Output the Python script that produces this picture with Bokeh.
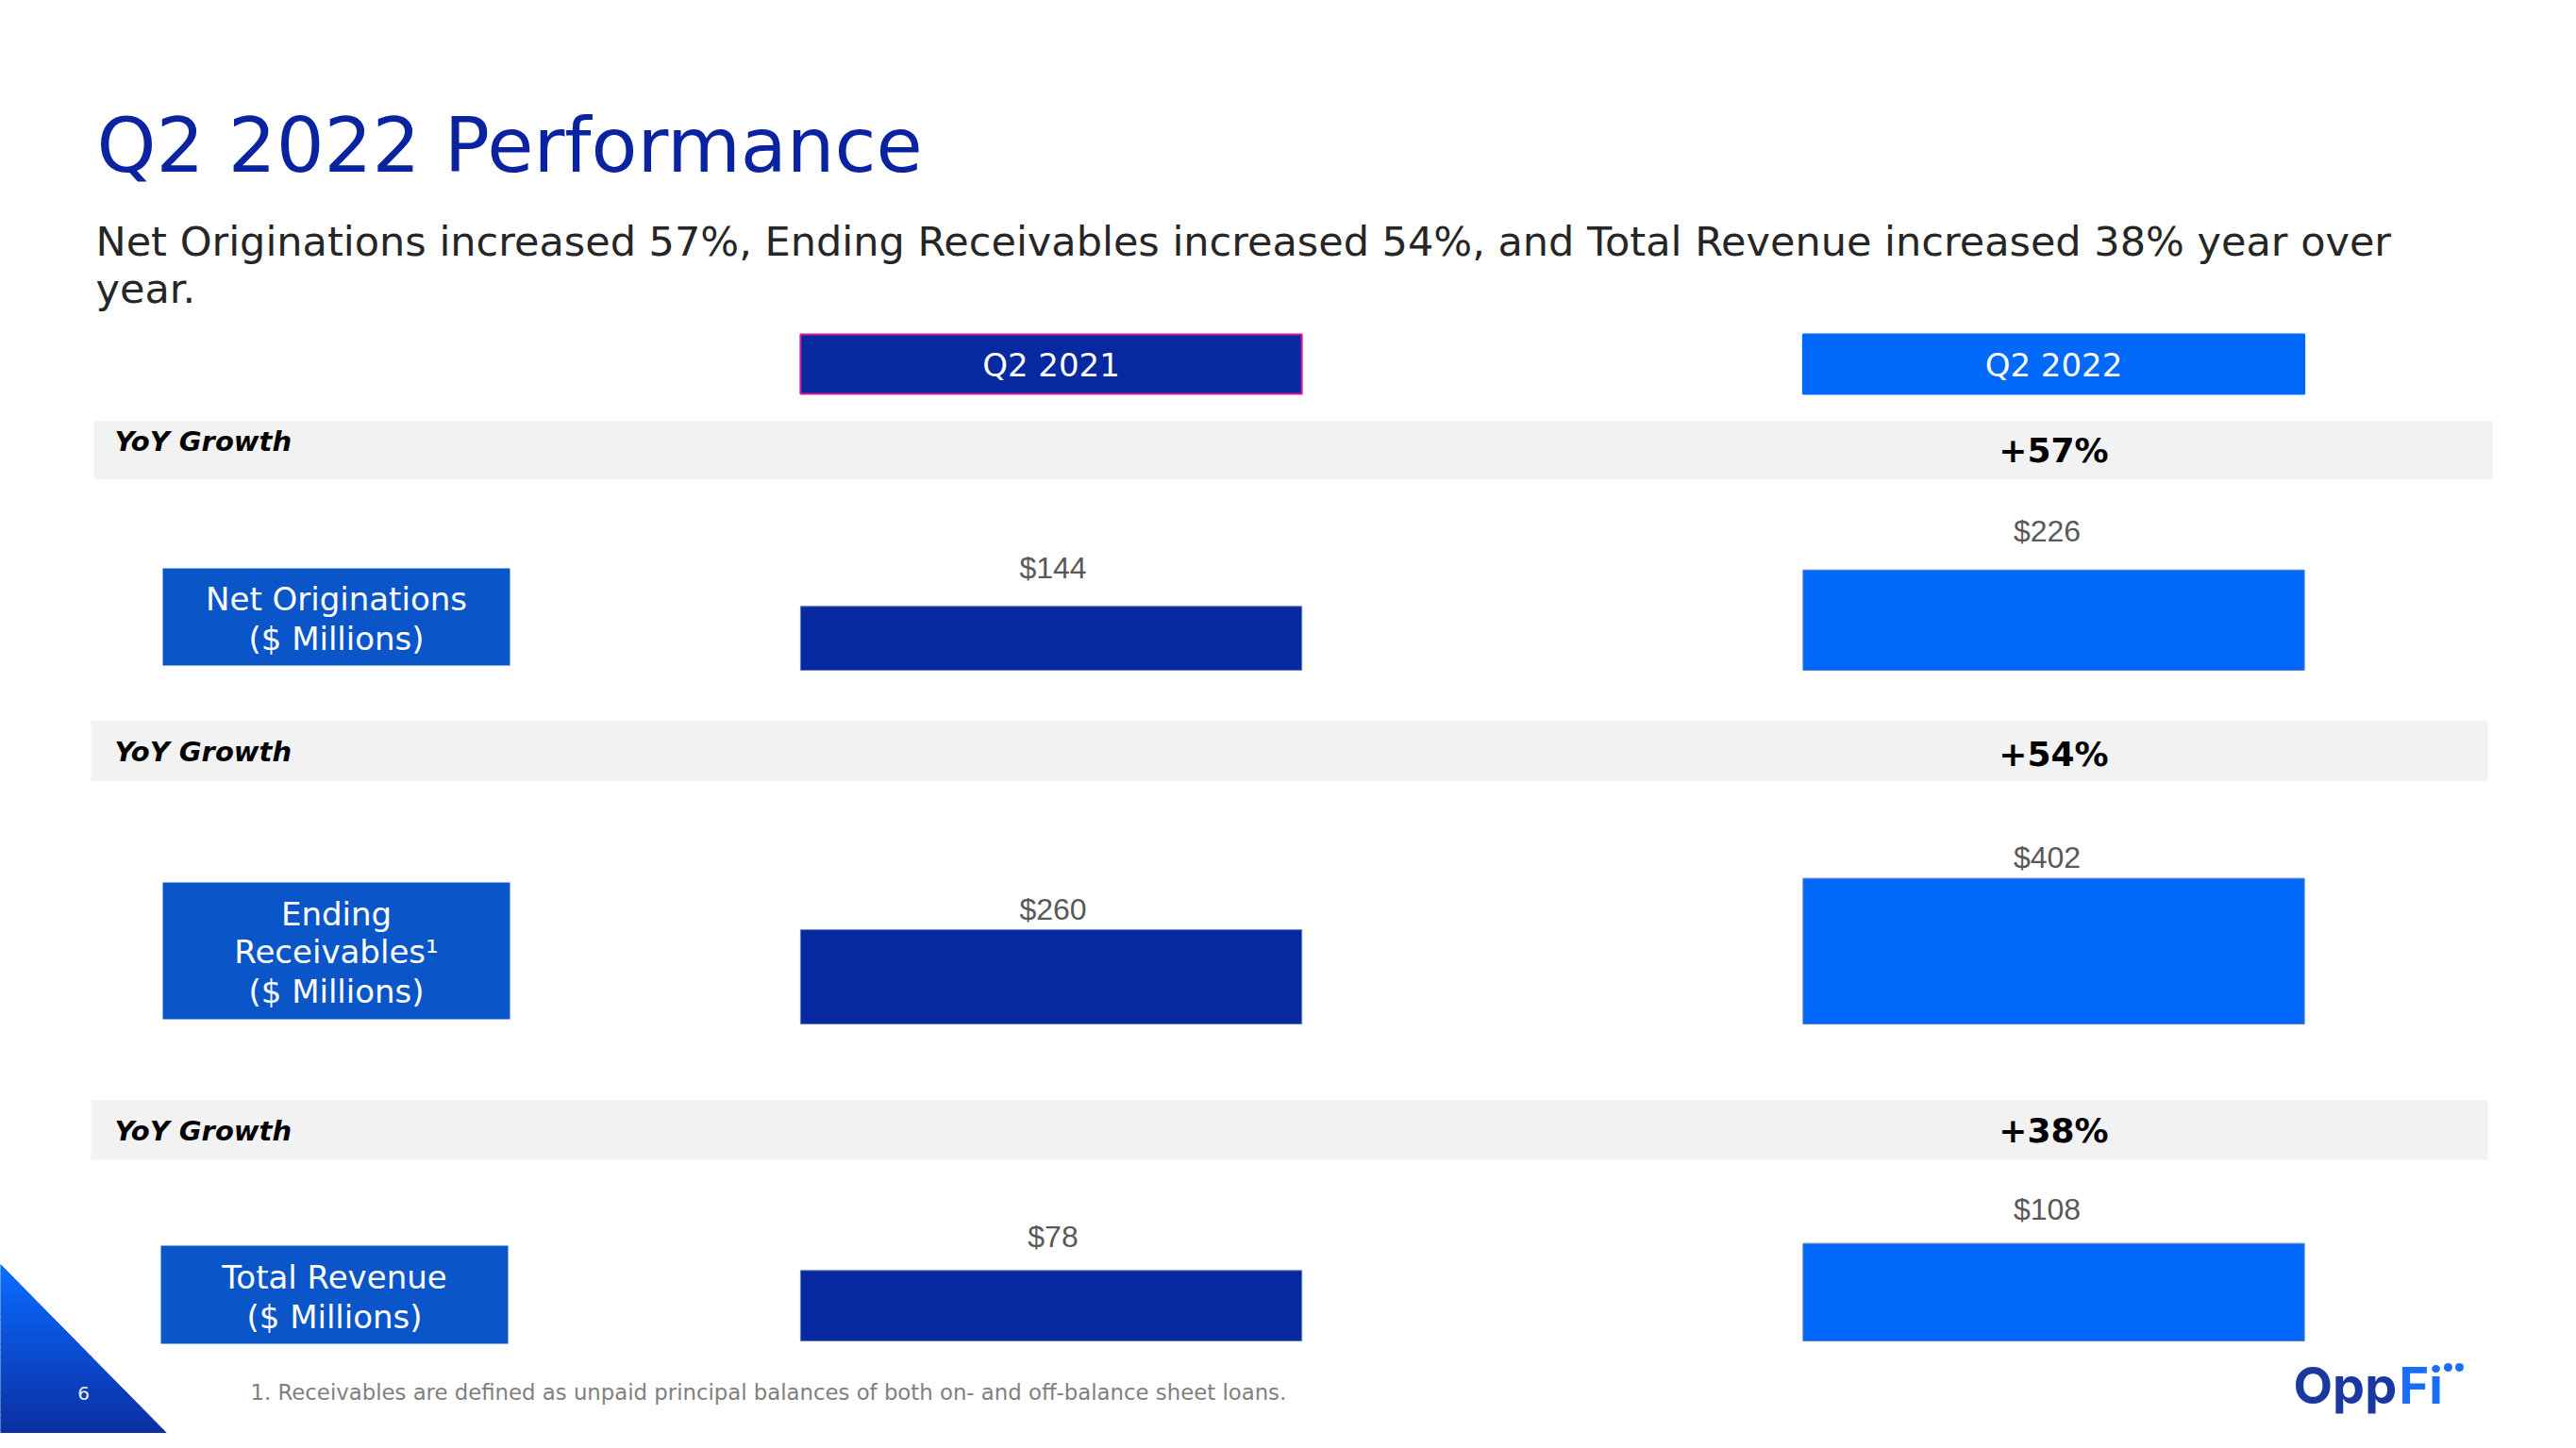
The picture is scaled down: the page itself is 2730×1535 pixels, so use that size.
from bokeh.plotting import figure
from bokeh.models import Range1d, ColumnDataSource
from bokeh.core.properties import value
from bokeh.embed import file_html
from bokeh.resources import INLINE

# ---------------- data ----------------
title_text = "Q2 2022 Performance"
subtitle_lines = [
    "Net Originations increased 57%, Ending Receivables increased 54%, and Total Revenue increased 38% year over",
    "year.",
]
metrics = ["Net Originations", "Ending Receivables", "Total Revenue"]
metric_box_lines = [
    ["Net Originations", "($ Millions)"],
    ["Ending", "Receivables\u00b9", "($ Millions)"],
    ["Total Revenue", "($ Millions)"],
]
periods = ["Q2 2021", "Q2 2022"]
q2_2021 = [144, 260, 78]
q2_2022 = [226, 402, 108]
yoy_growth = ["+57%", "+54%", "+38%"]
yoy_label = "YoY Growth"
footnote = "1. Receivables are defined as unpaid principal balances of both on- and off-balance sheet loans."
page_number = "6"

# ---------------- styles / layout ----------------
NAVY = "#0628a0"
BRIGHT = "#0068fb"
BOX = "#0a56c8"
BAND = "#f2f2f2"
TITLE_C = "#0a23a0"
SANS = "DejaVu Sans"
W, H = 2714, 1519

panel_baseline = [710, 1085, 1421]        # screen px of value 0
panel_px_per_unit = [0.47, 0.384, 0.957]  # each panel has its own scale
label_gap = [41, 22, 36]                  # label centre above bar top (px)
label_dx = [2, -7]                        # small horizontal nudge per column (px)
band_top = [446, 764, 1166]
band_bottom = [508, 827, 1229]
band_left = [99, 96, 96]
band_right = [2641, 2636, 2636]
yoy_center = [467, 796, 1198]
growth_center = [477, 799, 1198]
box_left = [172, 172, 170]
box_right = [540, 540, 538]
box_top = [602, 935, 1320]
box_bottom = [705, 1080, 1424]
box_line_y = [[634, 676], [968, 1008, 1050], [1353, 1395]]

col_px = 1062.5       # px between the two period columns
col0_px = 1113.5      # px of first column centre

p = figure(width=W, height=H, x_range=Range1d(0, W), y_range=Range1d(H, 0),
           x_axis_type=None, y_axis_type=None, output_backend="svg",
           toolbar_location=None, min_border=0, title=None)
p.grid.visible = False
p.outline_line_color = None
p.background_fill_color = "white"
p.border_fill_color = "white"

c = -col0_px / col_px
p.extra_x_ranges = {"period": Range1d(c, c + W / col_px)}
yr = {}
for k in range(3):
    s = panel_px_per_unit[k]
    a = (panel_baseline[k] - H) / s
    yr[f"panel{k}"] = Range1d(a, a + H / s)
p.extra_y_ranges = yr

# ---------------- title / subtitle ----------------
p.text(x=[102], y=[154], text=[title_text], text_font=value(SANS), text_font_size="80px",
       text_color=TITLE_C, text_baseline="middle", text_align="left")
p.text(x=[101, 101], y=[255, 305], text=subtitle_lines, text_font=value(SANS),
       text_font_size="43px", text_color="#262626", text_baseline="middle", text_align="left")

# ---------------- column headers ----------------
idx = list(range(len(periods)))
hdr = ColumnDataSource(dict(left=[i - 0.25 for i in idx], right=[i + 0.25 for i in idx],
                            fill=[NAVY, BRIGHT], line=["#d6199a", BRIGHT], x=idx, label=periods))
p.quad(left="left", right="right", top=354, bottom=417, fill_color="fill", line_color="line",
       line_width=2, source=hdr, x_range_name="period")
p.text(x="x", y=386, text="label", source=hdr, x_range_name="period", text_font=value(SANS),
       text_font_size="34px", text_color="white", text_align="center", text_baseline="middle")

# ---------------- bands, boxes, bars ----------------
for k in range(3):
    p.quad(left=[band_left[k]], right=[band_right[k]], top=[band_top[k]], bottom=[band_bottom[k]],
           fill_color=BAND, line_color=None)
    p.text(x=[121], y=[yoy_center[k]], text=[yoy_label], text_font=value(SANS),
           text_font_size="29px", text_font_style="bold italic", text_color="black",
           text_baseline="middle", text_align="left")
    p.text(x=[1], y=[growth_center[k]], text=[yoy_growth[k]], x_range_name="period",
           text_font=value(SANS), text_font_size="36px", text_font_style="bold",
           text_color="black", text_baseline="middle", text_align="center")

    p.quad(left=[box_left[k]], right=[box_right[k]], top=[box_top[k]], bottom=[box_bottom[k]],
           fill_color=BOX, line_color=None)
    cx = (box_left[k] + box_right[k]) / 2
    lines = metric_box_lines[k]
    p.text(x=[cx] * len(lines), y=box_line_y[k], text=lines, text_font=value(SANS),
           text_font_size="34px", text_color="white", text_align="center", text_baseline="middle")

    vals = [q2_2021[k], q2_2022[k]]
    src = ColumnDataSource(dict(x=idx, top=vals, color=[NAVY, BRIGHT], dx=label_dx,
                                label=[f"${v}" for v in vals]))
    p.vbar(x="x", top="top", bottom=0, width=0.5, fill_color="color", line_color="#5b7fc0",
           line_width=1, source=src, x_range_name="period", y_range_name=f"panel{k}")
    p.text(x="x", y="top", text="label", source=src, x_range_name="period",
           y_range_name=f"panel{k}", x_offset="dx", y_offset=-label_gap[k],
           text_font=value("Liberation Sans"), text_font_size="32px", text_color="#595959",
           text_align="center", text_baseline="middle")

# ---------------- footnote ----------------
p.text(x=[265], y=[1475], text=[footnote], text_font=value(SANS), text_font_size="22.8px",
       text_color="#7f7f7f", text_baseline="middle", text_align="left")

# ---------------- corner triangle (gradient strips) ----------------
def mix(c1, c2, t):
    a = [int(c1[i:i + 2], 16) for i in (1, 3, 5)]
    b = [int(c2[i:i + 2], 16) for i in (1, 3, 5)]
    return "#%02x%02x%02x" % tuple(round(a[j] + (b[j] - a[j]) * t) for j in range(3))

ty0, ty1, tx1 = 1340, 1535, 192
n = 30
xs, ys, cols = [], [], []
for i in range(n):
    y0 = ty0 + (ty1 - ty0) * i / n
    y1 = ty0 + (ty1 - ty0) * (i + 1) / n
    x0 = (y0 - ty0) / (ty1 - ty0) * tx1
    x1 = (y1 - ty0) / (ty1 - ty0) * tx1
    xs.append([0, x0, x1, 0])
    ys.append([y0, y0, y1, y1])
    cols.append(mix("#0a6cff", "#0b2a9c", i / (n - 1)))
p.patches(xs=xs, ys=ys, fill_color=cols, line_color=cols, line_width=1)
p.text(x=[88], y=[1476], text=[page_number], text_font=value(SANS), text_font_size="20px",
       text_color="#e6ecff", text_align="center", text_baseline="middle")

# ---------------- logo ----------------
p.text(x=[2430], y=[1468], text=["Opp"], text_font=value("Inter"), text_font_size="54px",
       text_font_style="bold", text_color="#1b38a0", text_align="left", text_baseline="middle")
p.text(x=[2542], y=[1468], text=["Fi"], text_font=value("Inter"), text_font_size="54px",
       text_font_style="bold", text_color="#1a6ef5", text_align="left", text_baseline="middle")
p.scatter(x=[2594, 2606], y=[1449, 1449], size=9, marker="circle", fill_color="#1a6ef5",
          line_color=None)

open("out.html", "w").write(file_html(p, INLINE))
